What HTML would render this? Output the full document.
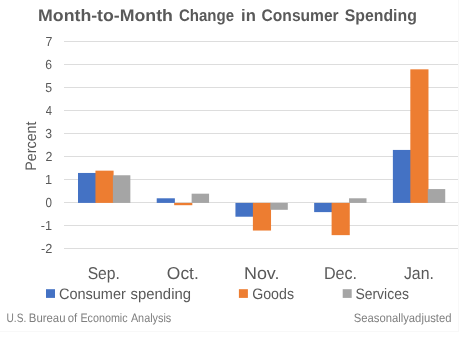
<!DOCTYPE html>
<html><head><meta charset="utf-8"><style>
html,body{margin:0;padding:0;background:#fff;width:466px;height:343px;overflow:hidden}
svg{display:block;font-family:"Liberation Sans",sans-serif;text-rendering:geometricPrecision;will-change:transform}
</style></head><body>
<svg width="466" height="343" viewBox="0 0 466 343">
<rect x="-0.5" y="-0.5" width="459" height="332" fill="none" stroke="#F8F8F8" stroke-width="1"/>
<line x1="64" y1="248.5" x2="458" y2="248.5" stroke="#DDDDDD" stroke-width="1"/>
<line x1="64" y1="225.5" x2="458" y2="225.5" stroke="#DDDDDD" stroke-width="1"/>
<line x1="64" y1="202.5" x2="458" y2="202.5" stroke="#DDDDDD" stroke-width="1"/>
<line x1="64" y1="179.5" x2="458" y2="179.5" stroke="#DDDDDD" stroke-width="1"/>
<line x1="64" y1="156.5" x2="458" y2="156.5" stroke="#DDDDDD" stroke-width="1"/>
<line x1="64" y1="133.5" x2="458" y2="133.5" stroke="#DDDDDD" stroke-width="1"/>
<line x1="64" y1="110.5" x2="458" y2="110.5" stroke="#DDDDDD" stroke-width="1"/>
<line x1="64" y1="87.5" x2="458" y2="87.5" stroke="#DDDDDD" stroke-width="1"/>
<line x1="64" y1="64.5" x2="458" y2="64.5" stroke="#DDDDDD" stroke-width="1"/>
<line x1="64" y1="41.5" x2="458" y2="41.5" stroke="#DDDDDD" stroke-width="1"/>
<rect x="78.00" y="172.96" width="18.15" height="29.94" fill="#4472C4"/>
<rect x="95.45" y="170.66" width="18.15" height="32.24" fill="#ED7D31"/>
<rect x="112.90" y="175.26" width="17.45" height="27.64" fill="#A5A5A5"/>
<rect x="156.72" y="198.29" width="18.15" height="4.61" fill="#4472C4"/>
<rect x="174.17" y="202.90" width="18.15" height="2.30" fill="#ED7D31"/>
<rect x="191.62" y="193.69" width="17.45" height="9.21" fill="#A5A5A5"/>
<rect x="235.44" y="202.90" width="18.15" height="13.82" fill="#4472C4"/>
<rect x="252.89" y="202.90" width="18.15" height="27.64" fill="#ED7D31"/>
<rect x="270.34" y="202.90" width="17.45" height="6.91" fill="#A5A5A5"/>
<rect x="314.16" y="202.90" width="18.15" height="9.21" fill="#4472C4"/>
<rect x="331.61" y="202.90" width="18.15" height="32.24" fill="#ED7D31"/>
<rect x="349.06" y="198.29" width="17.45" height="4.61" fill="#A5A5A5"/>
<rect x="392.88" y="149.93" width="18.15" height="52.97" fill="#4472C4"/>
<rect x="410.33" y="69.33" width="18.15" height="133.57" fill="#ED7D31"/>
<rect x="427.78" y="189.08" width="17.45" height="13.82" fill="#A5A5A5"/>
<text x="41.01" y="253.28" font-size="13.1" fill="#595959" textLength="11.35" lengthAdjust="spacingAndGlyphs">-2</text>
<text x="40.75" y="230.24" font-size="13.1" fill="#595959" textLength="11.29" lengthAdjust="spacingAndGlyphs">-1</text>
<text x="45.41" y="207.20" font-size="13.1" fill="#595959" textLength="6.47" lengthAdjust="spacingAndGlyphs">0</text>
<text x="44.99" y="184.16" font-size="13.1" fill="#595959" textLength="7.11" lengthAdjust="spacingAndGlyphs">1</text>
<text x="45.42" y="161.12" font-size="13.1" fill="#595959" textLength="6.92" lengthAdjust="spacingAndGlyphs">2</text>
<text x="45.16" y="138.08" font-size="13.1" fill="#595959" textLength="6.8" lengthAdjust="spacingAndGlyphs">3</text>
<text x="45.78" y="115.04" font-size="13.1" fill="#595959" textLength="6.24" lengthAdjust="spacingAndGlyphs">4</text>
<text x="45.37" y="92.00" font-size="13.1" fill="#595959" textLength="6.86" lengthAdjust="spacingAndGlyphs">5</text>
<text x="45.33" y="68.96" font-size="13.1" fill="#595959" textLength="6.79" lengthAdjust="spacingAndGlyphs">6</text>
<text x="45.41" y="45.92" font-size="13.1" fill="#595959" textLength="6.89" lengthAdjust="spacingAndGlyphs">7</text>
<text x="38.09" y="21" font-size="16.7" fill="#595959" font-weight="bold" textLength="134.83" lengthAdjust="spacingAndGlyphs">Month-to-Month</text>
<text x="178.96" y="21" font-size="16.7" fill="#595959" font-weight="bold" textLength="55.03" lengthAdjust="spacingAndGlyphs">Change</text>
<text x="241.06" y="21" font-size="16.7" fill="#595959" font-weight="bold" textLength="14.78" lengthAdjust="spacingAndGlyphs">in</text>
<text x="261.58" y="21" font-size="16.7" fill="#595959" font-weight="bold" textLength="77.09" lengthAdjust="spacingAndGlyphs">Consumer</text>
<text x="344.83" y="21" font-size="16.7" fill="#595959" font-weight="bold" textLength="71.98" lengthAdjust="spacingAndGlyphs">Spending</text>
<text transform="translate(35.7,169.8) rotate(-90)" x="-0.9" y="0" font-size="15.2" fill="#595959" textLength="49.22" lengthAdjust="spacingAndGlyphs">Percent</text>
<text x="87.66" y="279" font-size="17.2" fill="#595959" textLength="32.28" lengthAdjust="spacingAndGlyphs">Sep.</text>
<text x="166.85" y="279" font-size="17.2" fill="#595959" textLength="31.91" lengthAdjust="spacingAndGlyphs">Oct.</text>
<text x="243.93" y="279" font-size="17.2" fill="#595959" textLength="35.58" lengthAdjust="spacingAndGlyphs">Nov.</text>
<text x="323.97" y="279" font-size="17.2" fill="#595959" textLength="33.13" lengthAdjust="spacingAndGlyphs">Dec.</text>
<text x="403.94" y="279" font-size="17.2" fill="#595959" textLength="30.0" lengthAdjust="spacingAndGlyphs">Jan.</text>
<rect x="46" y="289.2" width="9" height="8.7" fill="#4472C4"/>
<rect x="238.9" y="289.2" width="9" height="8.7" fill="#ED7D31"/>
<rect x="342.7" y="289.2" width="9" height="8.7" fill="#A5A5A5"/>
<text x="58.93" y="299" font-size="15.2" fill="#595959" textLength="66.95" lengthAdjust="spacingAndGlyphs">Consumer</text>
<text x="130.6" y="299" font-size="15.2" fill="#595959" textLength="60.42" lengthAdjust="spacingAndGlyphs">spending</text>
<text x="252.21" y="299" font-size="15.2" fill="#595959" textLength="41.79" lengthAdjust="spacingAndGlyphs">Goods</text>
<text x="355.39" y="299" font-size="15.2" fill="#595959" textLength="53.6" lengthAdjust="spacingAndGlyphs">Services</text>
<text x="6.54" y="322" font-size="12.2" fill="#7F7F7F" textLength="19.74" lengthAdjust="spacingAndGlyphs">U.S.</text>
<text x="28.81" y="322" font-size="12.2" fill="#7F7F7F" textLength="36.66" lengthAdjust="spacingAndGlyphs">Bureau</text>
<text x="67.65" y="322" font-size="12.2" fill="#7F7F7F" textLength="9.46" lengthAdjust="spacingAndGlyphs">of</text>
<text x="80.38" y="322" font-size="12.2" fill="#7F7F7F" textLength="47.24" lengthAdjust="spacingAndGlyphs">Economic</text>
<text x="130.88" y="322" font-size="12.2" fill="#7F7F7F" textLength="40.39" lengthAdjust="spacingAndGlyphs">Analysis</text>
<text x="353.74" y="322" font-size="12.2" fill="#7F7F7F" textLength="97.71" lengthAdjust="spacingAndGlyphs">Seasonallyadjusted</text>
</svg>
</body></html>
